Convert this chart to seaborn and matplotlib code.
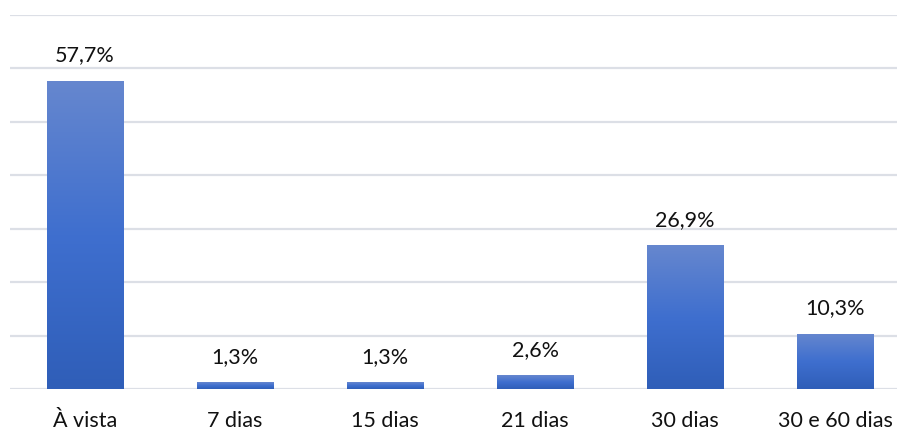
import numpy as np
import pandas as pd
import matplotlib
matplotlib.use("Agg")
import matplotlib.pyplot as plt
from matplotlib.colors import LinearSegmentedColormap
import seaborn as sns

categories = ["À vista", "7 dias", "15 dias", "21 dias", "30 dias", "30 e 60 dias"]
values = [57.7, 1.3, 1.3, 2.6, 26.9, 10.3]
labels = ["57,7%", "1,3%", "1,3%", "2,6%", "26,9%", "10,3%"]

df = pd.DataFrame({"prazo": categories, "pct": values})

sns.set_theme(style="white")
plt.rcParams["font.family"] = ["Lato", "DejaVu Sans"]

fig = plt.figure(figsize=(8.97, 4.31), dpi=100)
ax = fig.add_axes([10 / 897, 41 / 431, 900 / 897, 374 / 431])

sns.barplot(data=df, x="prazo", y="pct", color="#4472C4", width=0.51,
            saturation=1, ax=ax, zorder=3)

ax.set_ylim(0, 70)
ax.set_xlim(-0.5, len(categories) - 0.5)
ax.set_yticks(np.arange(0, 71, 10))
ax.yaxis.grid(True, color="#DCDFE6", linewidth=1.6, zorder=0)
ax.set_axisbelow(True)
for s in ax.spines.values():
    s.set_visible(False)
ax.set_xlabel("")
ax.set_ylabel("")
ax.tick_params(axis="y", left=False, labelleft=False)
ax.tick_params(axis="x", bottom=False, labelsize=15.5, colors="#111111", pad=9)

# vertical gradient fill on each bar
cmap = LinearSegmentedColormap.from_list("bar_grad", ["#2F5EB8", "#3F6FCF", "#6687CE"])
grad = np.linspace(0, 1, 256).reshape(-1, 1)
for patch in ax.patches:
    x0, y0 = patch.get_x(), patch.get_y()
    w, h = patch.get_width(), patch.get_height()
    patch.set_facecolor("none")
    patch.set_edgecolor("none")
    im = ax.imshow(grad, cmap=cmap, origin="lower", aspect="auto",
                   extent=[x0, x0 + w, y0, y0 + h], zorder=3)
    im.set_clip_path(patch)

for i, (v, lab) in enumerate(zip(values, labels)):
    ax.annotate(lab, xy=(i, v), xytext=(0, 19), textcoords="offset points",
                ha="center", va="center", fontsize=15.5, color="#111111")

ax.set_xlim(-0.5, len(categories) - 0.5)
ax.set_ylim(0, 70)

fig.savefig("out.png", dpi=100, facecolor="white")
